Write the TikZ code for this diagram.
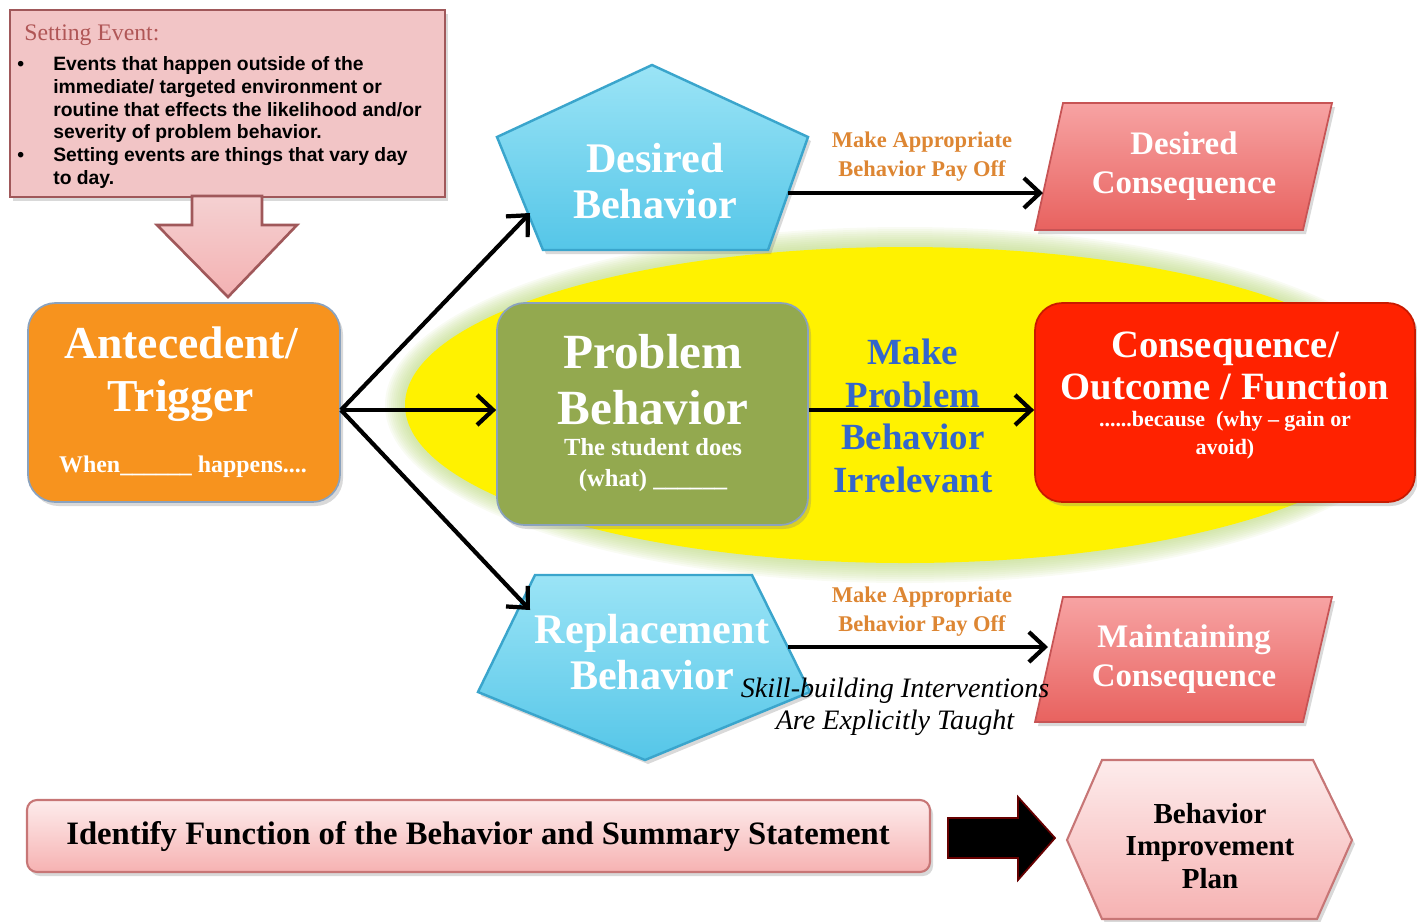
\documentclass[tikz,border=0pt]{standalone}
\usepackage{fontspec}
\setmainfont{Liberation Serif}
\setsansfont{Liberation Sans}
\usetikzlibrary{arrows.meta,fit,shadows}

\definecolor{setpink}{HTML}{F2C5C6}
\definecolor{setedge}{HTML}{A0585A}
\definecolor{settitle}{HTML}{B05656}
\definecolor{antorange}{HTML}{F7931E}
\definecolor{boxedge}{HTML}{8AA2BE}
\definecolor{probgreen}{HTML}{93A94F}
\definecolor{outred}{HTML}{FF2200}
\definecolor{outedge}{HTML}{C81A00}
\definecolor{cyantop}{HTML}{9BE4F6}
\definecolor{cyanbot}{HTML}{55C6E8}
\definecolor{cyanedge}{HTML}{3AA5CC}
\definecolor{contop}{HTML}{F7A3A3}
\definecolor{conbot}{HTML}{E8625F}
\definecolor{conedge}{HTML}{C75455}
\definecolor{bartop}{HTML}{FDECEC}
\definecolor{barbot}{HTML}{F6B2B2}
\definecolor{baredge}{HTML}{C77676}
\definecolor{payorange}{HTML}{DD8633}
\definecolor{irrblue}{HTML}{3366CC}
\definecolor{halo}{HTML}{B9D77A}

\newcommand\fsz[2]{\fontsize{#1}{#2}\selectfont}

\tikzset{
  flowarr/.style   = {-{Straight Barb[length=3.2mm,width=6mm]},line width=2.4pt},
  softshadow/.style = {drop shadow={opacity=.3,shadow xshift=.6mm,shadow yshift=-.8mm}},
  roundbox/.style  = {rounded corners=5.5mm,inner sep=0pt,draw=boxedge,line width=1pt,softshadow},
  pentagon/.style  = {top color=cyantop,bottom color=cyanbot,draw=cyanedge,line width=1.4pt,softshadow},
  consbox/.style   = {top color=contop,bottom color=conbot,draw=conedge,line width=1pt,softshadow},
  pinkbox/.style   = {top color=bartop,bottom color=barbot,draw=baredge,line width=1.2pt,softshadow},
  whitetext/.style = {text=white,align=center,inner sep=0pt},
  darktext/.style  = {text=black,align=center,inner sep=0pt},
  paylabel/.style  = {text=payorange,align=center,inner sep=0pt,font=\fsz{12.8}{16.4}\bfseries}
}

\begin{document}
\begin{tikzpicture}[x=0.02cm,y=-0.02cm]
  \useasboundingbox (0,0) rectangle (1417,921);

  % yellow zone round the middle row, with a soft green rim
  \foreach \r in {20,18,...,2}
    \fill[halo,opacity=.09] (905,405) ellipse ({500+\r} and {158+\r});
  \fill[yellow] (905,405) ellipse (500 and 158);

  % setting event
  \node[fill=setpink,draw=setedge,line width=1.5pt,inner sep=0pt,softshadow,
        fit={(10,10) (445,197)}] (setting) {};
  \node[anchor=west,text=settitle,inner sep=0pt,font=\fsz{13.5}{15}] (setting-title) at (24,35) {Setting Event:};
  \node[anchor=north west,inner sep=0pt,font=\sffamily\bfseries\fsz{11}{13}] (setting-body) at (17,54)
    {\begin{tabular}{@{}p{0.72cm}@{}p{7.7cm}@{}}
       \textbullet & Events that happen outside of the\newline immediate/ targeted environment or\newline
                     routine that effects the likelihood and/or\newline severity of problem behavior.\\
       \textbullet & Setting events are things that vary day\newline to day.
     \end{tabular}};
  \draw[top color=setpink!80!white,bottom color=setpink!90!red,draw=setedge,line width=1.5pt]
    (192,196) -- (262,196) -- (262,225) -- (297,225) -- (228,297) -- (157,225) -- (192,225) -- cycle;

  % antecedent, problem behaviour and its consequence
  \node[roundbox,fill=antorange,fit={(28,303) (340,502)}] (antecedent) {};
  \node[whitetext,font=\fsz{26}{30}\bfseries] (antecedent-title) at (181,374) {Antecedent/\\Trigger};
  \node[whitetext,font=\fsz{13.6}{15}\bfseries] (antecedent-note) at (183,467) {When\_\_\_\_\_\_ happens....};

  \node[roundbox,fill=probgreen,fit={(497,303) (808,525)}] (problem) {};
  \node[whitetext,font=\fsz{28}{32}\bfseries] (problem-title) at (653,380) {Problem\\Behavior};
  \node[whitetext,font=\fsz{14}{17.6}\bfseries] (problem-note) at (653,465) {The student does\\(what) \_\_\_\_\_\_};

  \node[roundbox,fill=outred,draw=outedge,fit={(1035,303) (1415,502)}] (outcome) {};
  \node[whitetext,font=\fsz{22}{24}\bfseries] (outcome-title) at (1225,366) {Consequence/\\Outcome / Function};
  \node[whitetext,font=\fsz{12.5}{16}\bfseries] (outcome-note) at (1225,435) {......because\ \ (why -- gain or\\avoid)};

  \node[text=irrblue,align=center,inner sep=0pt,font=\fsz{21}{24.2}\bfseries] (irrelevant) at (913,416)
    {Make\\Problem\\Behavior\\Irrelevant};

  % desired behaviour
  \draw[pentagon] (652,65) -- (808,137) -- (768,250) -- (543,250) -- (497,137) -- cycle;
  \node[whitetext,font=\fsz{24}{26}\bfseries] (desired) at (655,181) {Desired\\Behavior};
  \coordinate (desired-in) at (530,213);
  \coordinate (desired-out) at (788,193);

  \draw[consbox] (1063,103) -- (1332,103) -- (1303,230) -- (1035,230) -- cycle;
  \node[whitetext,font=\fsz{18.7}{22}\bfseries] (dcons) at (1184,166) {Desired\\Consequence};
  \coordinate (dcons-in) at (1043,193);
  \node[paylabel] (pay-top) at (922,157) {Make Appropriate\\Behavior Pay Off};

  % replacement behaviour
  \draw[pentagon] (535,575) -- (752,575) -- (810,692) -- (645,760) -- (478,692) -- cycle;
  \node[whitetext,font=\fsz{24}{26}\bfseries] (replace) at (652,652) {Replacement\\Behavior};
  \coordinate (replace-in) at (530,610);
  \coordinate (replace-out) at (788,647);

  \draw[consbox] (1063,597) -- (1332,597) -- (1303,722) -- (1035,722) -- cycle;
  \node[whitetext,font=\fsz{18.7}{22}\bfseries] (mcons) at (1184,659) {Maintaining\\Consequence};
  \coordinate (mcons-in) at (1048,647);
  \node[paylabel] (pay-bottom) at (922,612) {Make Appropriate\\Behavior Pay Off};
  \node[darktext,font=\fsz{16}{18}\itshape] (skill) at (895,707) {Skill-building Interventions\\Are Explicitly Taught};

  % connectors
  \coordinate (fork) at (341,410);
  \draw[flowarr] (fork) -- (desired-in);
  \draw[flowarr] (fork) -- (problem.west |- fork);
  \draw[flowarr] (fork) -- (replace-in);
  \draw[flowarr] (desired-out) -- (dcons-in);
  \draw[flowarr] (problem.east |- fork) -- (outcome.west |- fork);
  \draw[flowarr] (replace-out) -- (mcons-in);

  % summary and plan
  \node[pinkbox,rounded corners=2mm,inner sep=0pt,fit={(27,800) (930,872)}] (identify) {};
  \node[darktext,font=\fsz{18.6}{20}\bfseries] (identify-text) at (478,837)
    {Identify Function of the Behavior and Summary Statement};
  \draw[fill=black,draw=black!60!red,line width=1pt]
    (948,818) -- (1018,818) -- (1018,797) -- (1055,838) -- (1018,880) -- (1018,858) -- (948,858) -- cycle;
  \draw[pinkbox] (1102,760) -- (1313,760) -- (1352,840) -- (1317,919) -- (1102,919) -- (1067,840) -- cycle;
  \node[darktext,font=\fsz{16.5}{18.7}\bfseries] (plan) at (1210,846) {Behavior\\Improvement\\Plan};
\end{tikzpicture}
\end{document}
